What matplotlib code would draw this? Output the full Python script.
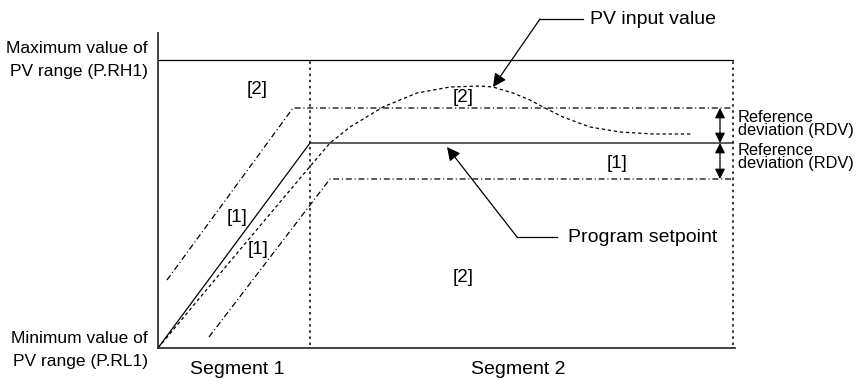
import matplotlib
matplotlib.use("Agg")
import matplotlib.pyplot as plt

plt.rcParams['font.family'] = ['Liberation Sans', 'DejaVu Sans']
plt.rcParams['lines.scale_dashes'] = False

# levels on the PV scale (chart units)
pv_max = 288
seg_end = [152, 575]          # end of segment 1, end of segment 2

# program setpoint (ramp then soak)
sp_t = [0, 152, 575]
sp_v = [0, 205, 205]

# upper / lower deviation limits
up_t = [9, 135, 575]
up_v = [68, 240, 240]
lo_t = [51, 172, 575]
lo_v = [11, 169, 169]

# PV input value
pv_t = [0, 75, 149, 172, 192, 225, 259, 292, 322, 335, 355, 372, 385, 405, 432, 462, 495, 534]
pv_v = [0, 90, 178, 205, 221, 241, 255, 261, 262, 261, 255, 248, 241, 231, 221, 216, 214, 214]

# region labels
zone_text = ['[2]', '[2]', '[2]', '[1]', '[1]', '[1]']
zone_x = [99, 305, 305, 459, 79, 100]
zone_y = [259, 250, 70, 185, 131, 98]

fig = plt.figure(figsize=(8.58, 3.81), dpi=100)
ax = fig.add_axes([158/858, 33/381, 577/858, 315/381])
ax.set_xlim(0, 577)
ax.set_ylim(0, 315)
for s in ['top', 'right']:
    ax.spines[s].set_visible(False)
for s in ['left', 'bottom']:
    ax.spines[s].set_linewidth(1.3)
    ax.spines[s].set_color('#333333')
ax.set_xticks([])
ax.set_yticks([])

lw = 0.9
dashdot = (0, (4.3, 2.0, 0.8, 2.0))
dotted = (0, (1.8, 2.6))

# max of PV range
ax.plot([0, seg_end[1]], [pv_max, pv_max], color='k', lw=lw)
# segment borders
for x in seg_end:
    ax.plot([x, x], [3, pv_max], color='k', lw=1.1, linestyle=dotted)

ax.plot(sp_t, sp_v, color='k', lw=lw)
ax.plot(up_t, up_v, color='k', lw=lw, linestyle=dashdot)
ax.plot(lo_t, lo_v, color='k', lw=lw, linestyle=dashdot)
ax.plot(pv_t, pv_v, color='k', lw=lw, linestyle=(0, (2.4, 2.0)))

for t, x, y in zip(zone_text, zone_x, zone_y):
    ax.text(x, y, t, fontsize=13.5, ha='center', va='center')

# reference deviation arrows
arr = dict(arrowstyle='<|-|>', color='k', lw=lw, mutation_scale=15, shrinkA=0, shrinkB=0)
ax.annotate('', xy=(562, up_v[-1]), xytext=(562, sp_v[-1]), arrowprops=arr)
ax.annotate('', xy=(562, lo_v[-1]), xytext=(562, sp_v[-1]), arrowprops=arr)
ax.text(580, 224, 'Reference\ndeviation (RDV)', fontsize=11.8, ha='left', va='center',
        linespacing=0.8, clip_on=False)
ax.text(580, 191, 'Reference\ndeviation (RDV)', fontsize=11.8, ha='left', va='center',
        linespacing=0.8, clip_on=False)

# leader lines
lead = dict(arrowstyle='-|>', color='k', lw=lw, mutation_scale=20, shrinkA=0, shrinkB=0)
ax.plot([382, 425], [329, 329], color='k', lw=lw, clip_on=False)
ax.annotate('', xy=(335, 261), xytext=(382, 329), arrowprops=lead, annotation_clip=False)
ax.text(432, 329, 'PV input value', fontsize=14, ha='left', va='center', clip_on=False)

ax.plot([359, 399], [111, 111], color='k', lw=lw)
ax.annotate('', xy=(289, 201), xytext=(359, 111), arrowprops=lead)
ax.text(410, 111, 'Program setpoint', fontsize=14, ha='left', va='center')

# axis texts
ax.text(-10, 288, 'Maximum value of\nPV range (P.RH1)', fontsize=12.5, ha='right', va='center',
        linespacing=1.6, clip_on=False)
ax.text(-10, -2, 'Minimum value of\nPV range (P.RL1)', fontsize=12.5, ha='right', va='center',
        linespacing=1.6, clip_on=False)
ax.text(79, -22, 'Segment 1', fontsize=14, ha='center', va='center', clip_on=False)
ax.text(360, -21, 'Segment 2', fontsize=14, ha='center', va='center', clip_on=False)

fig.savefig('out.png', dpi=100)
